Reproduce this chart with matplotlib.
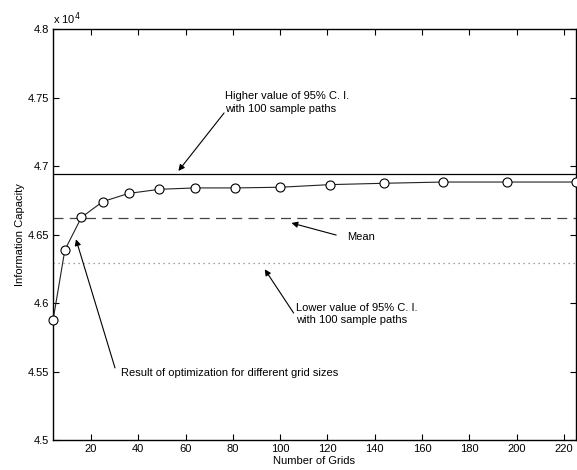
import matplotlib
matplotlib.use("Agg")
import matplotlib.pyplot as plt
from matplotlib.ticker import FixedLocator, FuncFormatter

plt.rcParams['font.family'] = ['Liberation Sans', 'DejaVu Sans']

# Number of grid cells (squares) and optimized information capacity
grids = [4, 9, 16, 25, 36, 49, 64, 81, 100, 121, 144, 169, 196, 225]
capacity = [45874, 46387, 46625, 46740, 46800, 46830, 46840, 46840,
            46845, 46864, 46874, 46883, 46883, 46883]

# Monte Carlo reference levels (100 sample paths)
ci_high = 46939
ci_mean = 46618
ci_low = 46290

x_ticks = [20, 40, 60, 80, 100, 120, 140, 160, 180, 200, 220]
y_ticks = [45000, 45500, 46000, 46500, 47000, 47500, 48000]

fig = plt.figure(figsize=(5.77, 4.70), dpi=100)
ax = fig.add_axes([0.0919, 0.0638, 0.9061, 0.8745])

ax.axhline(ci_high, color='black', lw=0.9)
ax.axhline(ci_mean, color='#444444', lw=0.9, dashes=(8, 5))
ax.axhline(ci_low, color='#888888', lw=0.9, dashes=(1, 3))
ax.plot(grids, capacity, color='#222222', lw=0.8, marker='o', ms=6.5,
        mfc='white', mec='black', mew=0.8, clip_on=False, zorder=3)

ax.set_xlim(4, 225)
ax.set_ylim(45000, 48000)
ax.xaxis.set_major_locator(FixedLocator(x_ticks))
ax.yaxis.set_major_locator(FixedLocator(y_ticks))
ax.yaxis.set_major_formatter(FuncFormatter(lambda v, p: '%g' % (v / 1e4)))
ax.tick_params(direction='in', length=4, width=0.8, top=True, right=True,
               labelsize=8, pad=3)
for s in ax.spines.values():
    s.set_linewidth(1.0)

ax.set_xlabel('Number of Grids', fontsize=8, labelpad=1)
ax.set_ylabel('Information Capacity', fontsize=8, labelpad=2)
ax.text(0.0, 1.005, r'x 10$^4$', transform=ax.transAxes, fontsize=8,
        ha='left', va='bottom')

arrow = dict(arrowstyle='-|>', lw=0.8, color='black', mutation_scale=9,
             shrinkA=0, shrinkB=0)
fs = 8

ax.annotate('', xy=(57.0, 46964), xytext=(76.3, 47387), arrowprops=arrow)
ax.text(76.7, 47464, 'Higher value of 95% C. I.\nwith 100 sample paths',
        fontsize=fs, ha='left', va='center', linespacing=1.3)

ax.annotate('', xy=(104.8, 46584), xytext=(123.7, 46496), arrowprops=arrow)
ax.text(128.3, 46482, 'Mean', fontsize=fs, ha='left', va='center')

ax.annotate('', xy=(93.5, 46246), xytext=(105.7, 45927), arrowprops=arrow)
ax.text(106.9, 45920, 'Lower value of 95% C. I.\nwith 100 sample paths',
        fontsize=fs, ha='left', va='center', linespacing=1.3)

ax.annotate('', xy=(13.7, 46465), xytext=(30.2, 45526), arrowprops=arrow)
ax.text(32.7, 45489, 'Result of optimization for different grid sizes',
        fontsize=fs, ha='left', va='center')

fig.savefig('out.png', dpi=100)
